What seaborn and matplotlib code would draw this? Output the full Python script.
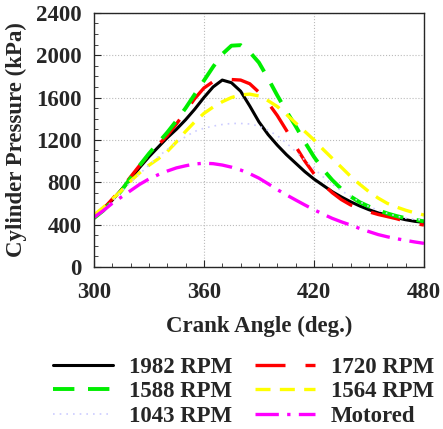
import seaborn as sns
import pandas as pd
import matplotlib.pyplot as plt
from matplotlib.ticker import MultipleLocator

sns.set_style("ticks")
plt.rcParams['font.family'] = ['Liberation Serif', 'DejaVu Serif']
plt.rcParams['font.weight'] = 'bold'

crank = list(range(300, 481, 5))

rpm_1982 = [470, 540, 630, 730, 830, 940, 1040, 1130, 1220, 1300, 1390, 1490, 1600, 1700, 1765,
            1740, 1660, 1520, 1370, 1250, 1150, 1060, 980, 900, 830, 770, 710, 660, 615, 575,
            540, 510, 490, 465, 445, 430, 420]
rpm_1720 = [470, 545, 640, 740, 850, 960, 1060, 1150, 1240, 1350, 1470, 1590, 1690, 1750, 1770,
            1770, 1765, 1730, 1650, 1550, 1430, 1290, 1140, 1000, 880, 780, 700, 635, 585, 550,
            520, 495, 475, 455, 430, 410, 395]
rpm_1588 = [460, 530, 620, 720, 840, 960, 1070, 1170, 1270, 1380, 1500, 1630, 1760, 1890, 2010,
            2090, 2095, 2030, 1930, 1780, 1620, 1470, 1330, 1180, 1040, 920, 820, 735, 665, 610,
            570, 535, 505, 480, 460, 445, 430]
rpm_1564 = [490, 560, 640, 720, 810, 890, 960, 1020, 1090, 1180, 1280, 1370, 1450, 1510, 1560,
            1600, 1625, 1632, 1615, 1570, 1515, 1440, 1360, 1280, 1200, 1110, 1025, 940, 855, 780,
            710, 650, 600, 565, 535, 510, 490]
rpm_1043 = [470, 540, 620, 710, 800, 880, 960, 1040, 1110, 1170, 1230, 1280, 1310, 1330, 1345,
            1355, 1355, 1350, 1330, 1290, 1240, 1170, 1090, 1010, 930, 850, 780, 720, 665, 615,
            570, 535, 505, 480, 460, 450, 440]
motored = [467, 530, 600, 660, 720, 780, 830, 870, 905, 935, 955, 972, 979, 975, 962,
           942, 915, 880, 838, 785, 730, 680, 632, 585, 540, 498, 458, 425, 395, 362,
           333, 305, 284, 266, 250, 235, 222]

series = [
    ("1982 RPM", rpm_1982, "black", None, 2.2),
    ("1720 RPM", rpm_1720, "#ff0000", (9, 6), 2.4),
    ("1588 RPM", rpm_1588, "#00ee00", (5.5, 3.5), 2.8),
    ("1564 RPM", rpm_1564, "#ffff00", (4.5, 2.8), 2.4),
    ("1043 RPM", rpm_1043, "#ccccff", (1, 3), 1.2),
    ("Motored", motored, "#ff00ff", (7, 2.5, 1, 2.5), 2.4),
]

fig = plt.figure(figsize=(4.43, 4.29), dpi=100)
ax = fig.add_axes([0.212, 0.378, 0.745, 0.592])

handles = {}
for name, vals, col, dash, lw in series:
    df = pd.DataFrame({"Crank": crank, "P": vals})
    sns.lineplot(data=df, x="Crank", y="P", color=col, lw=lw, ax=ax, label=name)
    line = ax.get_lines()[-1]
    if dash is not None:
        line.set_dashes(dash)
    handles[name] = line

ax.set_xlim(300, 480)
ax.set_ylim(0, 2400)
ax.xaxis.set_major_locator(MultipleLocator(60))
ax.xaxis.set_minor_locator(MultipleLocator(10))
ax.yaxis.set_major_locator(MultipleLocator(400))
ax.yaxis.set_minor_locator(MultipleLocator(100))
ax.tick_params(which='both', direction='in', top=False, right=False)
ax.tick_params(which='major', length=5, labelsize=16.5)
ax.tick_params(axis='x', which='major', pad=11)
ax.tick_params(axis='y', which='major', pad=9)
ax.tick_params(which='minor', length=3)
ax.grid(True, which='major', linestyle=':', color='#bbbbbb', lw=0.8)
for s in ax.spines.values():
    s.set_linewidth(1.0)

ax.set_xlabel("Crank Angle (deg.)", fontsize=16.5, fontweight='bold', labelpad=9)
ax.set_ylabel("Cylinder Pressure (kPa)", fontsize=16.5, fontweight='bold', labelpad=6)

ax.get_legend().remove()
order = ["1982 RPM", "1588 RPM", "1043 RPM", "1720 RPM", "1564 RPM", "Motored"]
fig.legend([handles[n] for n in order], order, ncol=2, frameon=False,
           loc='upper center', bbox_to_anchor=(0.55, 0.195),
           handlelength=2.6, handletextpad=0.7, columnspacing=1.0,
           labelspacing=0.15, borderaxespad=0.1,
           prop={'weight': 'bold', 'size': 16.5})

fig.savefig("out.png", dpi=100)
